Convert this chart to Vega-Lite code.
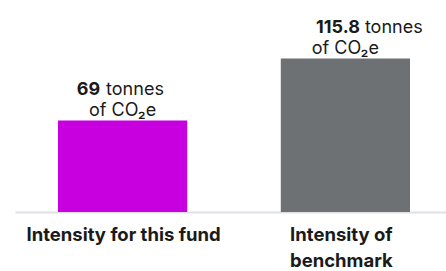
{
  "$schema": "https://vega.github.io/schema/vega-lite/v6.json",
  "width": 438,
  "height": 212,
  "autosize": "none",
  "padding": {"left": 15, "top": 0, "right": 0, "bottom": 59},
  "background": "white",
  "config": {"view": {"stroke": null}, "font": "Inter"},
  "data": {"values": [
    {"category": "Intensity for this fund", "value": 69, "label": "69"},
    {"category": "Intensity of benchmark", "value": 115.8, "label": "115.8"}
  ]},
  "encoding": {
    "x": {
      "field": "category", "type": "nominal", "sort": null,
      "scale": {"paddingInner": 0.42, "paddingOuter": 0.193},
      "axis": {
        "title": null, "ticks": false, "domainColor": "#dde1e6", "domainWidth": 2,
        "labelAngle": 0, "labelFont": "Inter", "labelFontSize": 18.5, "labelFontWeight": "bold",
        "labelColor": "#1a1a1a", "labelPadding": 13, "labelLineHeight": 26.5, "labelLimit": 300,
        "labelOffset": {"condition": {"test": "datum.value == 'Intensity of benchmark'", "value": -4}, "value": 1},
        "labelExpr": "datum.value == 'Intensity of benchmark' ? ['Intensity of', 'benchmark'] : datum.value"
      }
    },
    "y": {"field": "value", "type": "quantitative", "scale": {"domain": [0, 160]}, "axis": null}
  },
  "layer": [
    {
      "mark": {"type": "bar"},
      "encoding": {
        "color": {"field": "category", "type": "nominal", "sort": null, "legend": null,
          "scale": {"range": ["#c800e0", "#6e7174"]}}
      }
    },
    {
      "mark": {"type": "text", "baseline": "alphabetic", "align": "center", "dy": -5, "fontSize": 18, "font": "Inter", "color": "#1a1a1a"},
      "encoding": {"text": {"value": "of CO₂e"}}
    },
    {
      "transform": [{"filter": "datum.category == 'Intensity for this fund'"}],
      "mark": {"type": "text", "baseline": "alphabetic", "align": "right", "dx": -22.5, "dy": -26, "fontSize": 18, "fontWeight": "bold", "font": "Inter", "color": "#1a1a1a"},
      "encoding": {"text": {"field": "label"}}
    },
    {
      "transform": [{"filter": "datum.category == 'Intensity for this fund'"}],
      "mark": {"type": "text", "baseline": "alphabetic", "align": "left", "dx": -16.5, "dy": -26, "fontSize": 18, "font": "Inter", "color": "#1a1a1a"},
      "encoding": {"text": {"value": "tonnes"}}
    },
    {
      "transform": [{"filter": "datum.category == 'Intensity of benchmark'"}],
      "mark": {"type": "text", "baseline": "alphabetic", "align": "right", "dx": 14.5, "dy": -26, "fontSize": 18, "fontWeight": "bold", "font": "Inter", "color": "#1a1a1a"},
      "encoding": {"text": {"field": "label"}}
    },
    {
      "transform": [{"filter": "datum.category == 'Intensity of benchmark'"}],
      "mark": {"type": "text", "baseline": "alphabetic", "align": "left", "dx": 19.5, "dy": -26, "fontSize": 18, "font": "Inter", "color": "#1a1a1a"},
      "encoding": {"text": {"value": "tonnes"}}
    }
  ]
}
